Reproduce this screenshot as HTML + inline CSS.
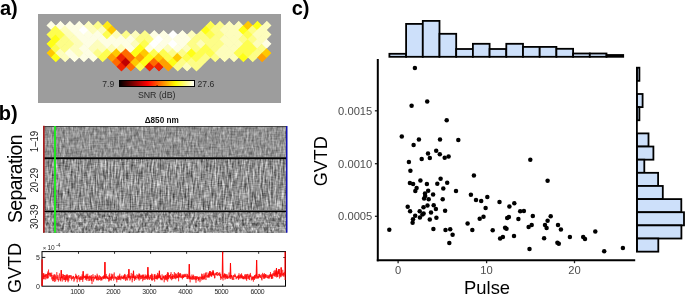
<!DOCTYPE html>
<html><head><meta charset="utf-8"><style>
html,body{margin:0;padding:0;background:#fff;width:685px;height:295px;overflow:hidden}
svg{display:block;will-change:transform}
</style></head><body>
<svg width="685" height="295" viewBox="0 0 685 295">
<rect width="685" height="295" fill="#fff"/>
<text x="0" y="14.6" font-size="20" font-weight="bold" font-family="Liberation Sans, sans-serif" fill="#000">a)</text>
<rect x="38" y="14" width="243" height="89" fill="#9d9d9d"/>
<defs><clipPath id="hc"><path d="M51.10 20.79L55.79 25.40L60.48 20.79L65.17 25.40L69.86 20.79L74.55 25.40L79.24 20.79L83.93 25.40L88.62 20.79L93.31 25.40L98.00 20.79L102.69 25.40L107.38 20.79L112.07 25.40L116.76 30.01L121.45 34.62L126.14 30.01L130.83 34.62L135.52 30.01L140.21 34.62L144.90 30.01L149.59 34.62L154.28 30.01L158.97 34.62L163.66 30.01L168.35 34.62L173.04 30.01L177.73 34.62L182.42 30.01L187.11 34.62L191.80 30.01L196.49 34.62L201.18 30.01L205.87 25.40L210.56 20.79L215.25 25.40L219.94 20.79L224.63 25.40L229.32 20.79L234.01 25.40L238.70 20.79L243.39 25.40L248.08 20.79L252.77 25.40L257.46 20.79L262.15 25.40L266.84 20.79L271.53 25.40L266.84 30.01L271.53 34.62L266.84 39.23L271.53 43.84L266.84 48.45L271.53 53.06L266.84 57.67L262.15 62.28L257.46 57.67L252.77 62.28L248.08 57.67L243.39 62.28L238.70 57.67L234.01 62.28L229.32 57.67L224.63 62.28L219.94 57.67L215.25 62.28L210.56 57.67L205.87 62.28L201.18 66.89L196.49 71.50L191.80 66.89L187.11 71.50L182.42 66.89L177.73 71.50L173.04 66.89L168.35 71.50L163.66 66.89L158.97 71.50L154.28 66.89L149.59 71.50L144.90 66.89L140.21 71.50L135.52 66.89L130.83 71.50L126.14 66.89L121.45 71.50L116.76 66.89L112.07 62.28L107.38 57.67L102.69 62.28L98.00 57.67L93.31 62.28L88.62 57.67L83.93 62.28L79.24 57.67L74.55 62.28L69.86 57.67L65.17 62.28L60.48 57.67L55.79 62.28L51.10 57.67L46.41 53.06L51.10 48.45L46.41 43.84L51.10 39.23L46.41 34.62L51.10 30.01L46.41 25.40Z"/></clipPath><filter id="hb" x="-5%" y="-5%" width="110%" height="110%"><feGaussianBlur stdDeviation="0.3"/></filter></defs>
<g filter="url(#hb)"><g clip-path="url(#hc)"><path d="M51.10 20.34L56.24 25.40L51.10 30.46L45.96 25.40Z" fill="#fefee4"/><path d="M51.10 29.56L56.24 34.62L51.10 39.68L45.96 34.62Z" fill="#fefe50"/><path d="M51.10 38.78L56.24 43.84L51.10 48.90L45.96 43.84Z" fill="#ffff14"/><path d="M51.10 48.00L56.24 53.06L51.10 58.12L45.96 53.06Z" fill="#ffc800"/><path d="M55.79 24.95L60.93 30.01L55.79 35.07L50.65 30.01Z" fill="#fefe50"/><path d="M55.79 34.17L60.93 39.23L55.79 44.29L50.65 39.23Z" fill="#ffff14"/><path d="M55.79 43.39L60.93 48.45L55.79 53.51L50.65 48.45Z" fill="#fefe50"/><path d="M55.79 52.61L60.93 57.67L55.79 62.73L50.65 57.67Z" fill="#ffff14"/><path d="M60.48 20.34L65.62 25.40L60.48 30.46L55.34 25.40Z" fill="#fefee4"/><path d="M60.48 29.56L65.62 34.62L60.48 39.68L55.34 34.62Z" fill="#fefe50"/><path d="M60.48 38.78L65.62 43.84L60.48 48.90L55.34 43.84Z" fill="#fdfd88"/><path d="M60.48 48.00L65.62 53.06L60.48 58.12L55.34 53.06Z" fill="#fdfdbc"/><path d="M65.17 24.95L70.31 30.01L65.17 35.07L60.03 30.01Z" fill="#fdfdbc"/><path d="M65.17 34.17L70.31 39.23L65.17 44.29L60.03 39.23Z" fill="#fdfd88"/><path d="M65.17 43.39L70.31 48.45L65.17 53.51L60.03 48.45Z" fill="#fdfd88"/><path d="M65.17 52.61L70.31 57.67L65.17 62.73L60.03 57.67Z" fill="#fdfdbc"/><path d="M69.86 20.34L75.00 25.40L69.86 30.46L64.72 25.40Z" fill="#fefee4"/><path d="M69.86 29.56L75.00 34.62L69.86 39.68L64.72 34.62Z" fill="#fdfdbc"/><path d="M69.86 38.78L75.00 43.84L69.86 48.90L64.72 43.84Z" fill="#fdfd88"/><path d="M69.86 48.00L75.00 53.06L69.86 58.12L64.72 53.06Z" fill="#fefee4"/><path d="M74.55 24.95L79.69 30.01L74.55 35.07L69.41 30.01Z" fill="#fefee4"/><path d="M74.55 34.17L79.69 39.23L74.55 44.29L69.41 39.23Z" fill="#fdfdbc"/><path d="M74.55 43.39L79.69 48.45L74.55 53.51L69.41 48.45Z" fill="#fdfdbc"/><path d="M74.55 52.61L79.69 57.67L74.55 62.73L69.41 57.67Z" fill="#fefee4"/><path d="M79.24 20.34L84.38 25.40L79.24 30.46L74.10 25.40Z" fill="#fefee4"/><path d="M79.24 29.56L84.38 34.62L79.24 39.68L74.10 34.62Z" fill="#fefee4"/><path d="M79.24 38.78L84.38 43.84L79.24 48.90L74.10 43.84Z" fill="#fdfdbc"/><path d="M79.24 48.00L84.38 53.06L79.24 58.12L74.10 53.06Z" fill="#fdfdbc"/><path d="M83.93 24.95L89.07 30.01L83.93 35.07L78.79 30.01Z" fill="#ffffff"/><path d="M83.93 34.17L89.07 39.23L83.93 44.29L78.79 39.23Z" fill="#fefee4"/><path d="M83.93 43.39L89.07 48.45L83.93 53.51L78.79 48.45Z" fill="#fefee4"/><path d="M83.93 52.61L89.07 57.67L83.93 62.73L78.79 57.67Z" fill="#fefee4"/><path d="M88.62 20.34L93.76 25.40L88.62 30.46L83.48 25.40Z" fill="#fdfdbc"/><path d="M88.62 29.56L93.76 34.62L88.62 39.68L83.48 34.62Z" fill="#fefee4"/><path d="M88.62 38.78L93.76 43.84L88.62 48.90L83.48 43.84Z" fill="#fefee4"/><path d="M88.62 48.00L93.76 53.06L88.62 58.12L83.48 53.06Z" fill="#fefee4"/><path d="M93.31 24.95L98.45 30.01L93.31 35.07L88.17 30.01Z" fill="#fdfdbc"/><path d="M93.31 34.17L98.45 39.23L93.31 44.29L88.17 39.23Z" fill="#fefee4"/><path d="M93.31 43.39L98.45 48.45L93.31 53.51L88.17 48.45Z" fill="#fdfdbc"/><path d="M93.31 52.61L98.45 57.67L93.31 62.73L88.17 57.67Z" fill="#fefee4"/><path d="M98.00 20.34L103.14 25.40L98.00 30.46L92.86 25.40Z" fill="#fdfd88"/><path d="M98.00 29.56L103.14 34.62L98.00 39.68L92.86 34.62Z" fill="#fefee4"/><path d="M98.00 38.78L103.14 43.84L98.00 48.90L92.86 43.84Z" fill="#fdfdbc"/><path d="M98.00 48.00L103.14 53.06L98.00 58.12L92.86 53.06Z" fill="#fdfd88"/><path d="M102.69 24.95L107.83 30.01L102.69 35.07L97.55 30.01Z" fill="#fdfdbc"/><path d="M102.69 34.17L107.83 39.23L102.69 44.29L97.55 39.23Z" fill="#fefee4"/><path d="M102.69 43.39L107.83 48.45L102.69 53.51L97.55 48.45Z" fill="#fdfdbc"/><path d="M102.69 52.61L107.83 57.67L102.69 62.73L97.55 57.67Z" fill="#fefe50"/><path d="M107.38 20.34L112.52 25.40L107.38 30.46L102.24 25.40Z" fill="#ffea18"/><path d="M107.38 29.56L112.52 34.62L107.38 39.68L102.24 34.62Z" fill="#fefe50"/><path d="M107.38 38.78L112.52 43.84L107.38 48.90L102.24 43.84Z" fill="#fefee4"/><path d="M107.38 48.00L112.52 53.06L107.38 58.12L102.24 53.06Z" fill="#fefe50"/><path d="M112.07 24.95L117.21 30.01L112.07 35.07L106.93 30.01Z" fill="#ffc800"/><path d="M112.07 34.17L117.21 39.23L112.07 44.29L106.93 39.23Z" fill="#fefee4"/><path d="M112.07 43.39L117.21 48.45L112.07 53.51L106.93 48.45Z" fill="#fdfdbc"/><path d="M112.07 52.61L117.21 57.67L112.07 62.73L106.93 57.67Z" fill="#ffa000"/><path d="M116.76 29.56L121.90 34.62L116.76 39.68L111.62 34.62Z" fill="#fdfdbc"/><path d="M116.76 38.78L121.90 43.84L116.76 48.90L111.62 43.84Z" fill="#fefee4"/><path d="M116.76 48.00L121.90 53.06L116.76 58.12L111.62 53.06Z" fill="#ffc800"/><path d="M116.76 57.22L121.90 62.28L116.76 67.34L111.62 62.28Z" fill="#ff6a00"/><path d="M121.45 34.17L126.59 39.23L121.45 44.29L116.31 39.23Z" fill="#fefee4"/><path d="M121.45 43.39L126.59 48.45L121.45 53.51L116.31 48.45Z" fill="#fdfdbc"/><path d="M121.45 52.61L126.59 57.67L121.45 62.73L116.31 57.67Z" fill="#f02000"/><path d="M121.45 61.83L126.59 66.89L121.45 71.95L116.31 66.89Z" fill="#f02000"/><path d="M126.14 29.56L131.28 34.62L126.14 39.68L121.00 34.62Z" fill="#fdfd88"/><path d="M126.14 38.78L131.28 43.84L126.14 48.90L121.00 43.84Z" fill="#fefee4"/><path d="M126.14 48.00L131.28 53.06L126.14 58.12L121.00 53.06Z" fill="#ff6a00"/><path d="M126.14 57.22L131.28 62.28L126.14 67.34L121.00 62.28Z" fill="#c00000"/><path d="M130.83 34.17L135.97 39.23L130.83 44.29L125.69 39.23Z" fill="#fefee4"/><path d="M130.83 43.39L135.97 48.45L130.83 53.51L125.69 48.45Z" fill="#fefee4"/><path d="M130.83 52.61L135.97 57.67L130.83 62.73L125.69 57.67Z" fill="#ff6a00"/><path d="M130.83 61.83L135.97 66.89L130.83 71.95L125.69 66.89Z" fill="#ff6a00"/><path d="M135.52 29.56L140.66 34.62L135.52 39.68L130.38 34.62Z" fill="#fdfdbc"/><path d="M135.52 38.78L140.66 43.84L135.52 48.90L130.38 43.84Z" fill="#fdfdbc"/><path d="M135.52 48.00L140.66 53.06L135.52 58.12L130.38 53.06Z" fill="#ffff14"/><path d="M135.52 57.22L140.66 62.28L135.52 67.34L130.38 62.28Z" fill="#ffc800"/><path d="M140.21 34.17L145.35 39.23L140.21 44.29L135.07 39.23Z" fill="#fdfd88"/><path d="M140.21 43.39L145.35 48.45L140.21 53.51L135.07 48.45Z" fill="#ffff14"/><path d="M140.21 52.61L145.35 57.67L140.21 62.73L135.07 57.67Z" fill="#ffa000"/><path d="M140.21 61.83L145.35 66.89L140.21 71.95L135.07 66.89Z" fill="#fefe50"/><path d="M144.90 29.56L150.04 34.62L144.90 39.68L139.76 34.62Z" fill="#fdfd88"/><path d="M144.90 38.78L150.04 43.84L144.90 48.90L139.76 43.84Z" fill="#fefe50"/><path d="M144.90 48.00L150.04 53.06L144.90 58.12L139.76 53.06Z" fill="#ffc800"/><path d="M144.90 57.22L150.04 62.28L144.90 67.34L139.76 62.28Z" fill="#ffff14"/><path d="M149.59 34.17L154.73 39.23L149.59 44.29L144.45 39.23Z" fill="#fdfd88"/><path d="M149.59 43.39L154.73 48.45L149.59 53.51L144.45 48.45Z" fill="#fefee4"/><path d="M149.59 52.61L154.73 57.67L149.59 62.73L144.45 57.67Z" fill="#ffff14"/><path d="M149.59 61.83L154.73 66.89L149.59 71.95L144.45 66.89Z" fill="#f02000"/><path d="M154.28 29.56L159.42 34.62L154.28 39.68L149.14 34.62Z" fill="#fefee4"/><path d="M154.28 38.78L159.42 43.84L154.28 48.90L149.14 43.84Z" fill="#ffffff"/><path d="M154.28 48.00L159.42 53.06L154.28 58.12L149.14 53.06Z" fill="#fefe50"/><path d="M154.28 57.22L159.42 62.28L154.28 67.34L149.14 62.28Z" fill="#ff6a00"/><path d="M158.97 34.17L164.11 39.23L158.97 44.29L153.83 39.23Z" fill="#ffffff"/><path d="M158.97 43.39L164.11 48.45L158.97 53.51L153.83 48.45Z" fill="#fefee4"/><path d="M158.97 52.61L164.11 57.67L158.97 62.73L153.83 57.67Z" fill="#ffc800"/><path d="M158.97 61.83L164.11 66.89L158.97 71.95L153.83 66.89Z" fill="#f02000"/><path d="M163.66 29.56L168.80 34.62L163.66 39.68L158.52 34.62Z" fill="#fefee4"/><path d="M163.66 38.78L168.80 43.84L163.66 48.90L158.52 43.84Z" fill="#fefee4"/><path d="M163.66 48.00L168.80 53.06L163.66 58.12L158.52 53.06Z" fill="#fefe50"/><path d="M163.66 57.22L168.80 62.28L163.66 67.34L158.52 62.28Z" fill="#ffa000"/><path d="M168.35 34.17L173.49 39.23L168.35 44.29L163.21 39.23Z" fill="#fefee4"/><path d="M168.35 43.39L173.49 48.45L168.35 53.51L163.21 48.45Z" fill="#fdfdbc"/><path d="M168.35 52.61L173.49 57.67L168.35 62.73L163.21 57.67Z" fill="#fefe50"/><path d="M168.35 61.83L173.49 66.89L168.35 71.95L163.21 66.89Z" fill="#ffa000"/><path d="M173.04 29.56L178.18 34.62L173.04 39.68L167.90 34.62Z" fill="#ffffff"/><path d="M173.04 38.78L178.18 43.84L173.04 48.90L167.90 43.84Z" fill="#ffffff"/><path d="M173.04 48.00L178.18 53.06L173.04 58.12L167.90 53.06Z" fill="#fdfd88"/><path d="M173.04 57.22L178.18 62.28L173.04 67.34L167.90 62.28Z" fill="#ffff14"/><path d="M177.73 34.17L182.87 39.23L177.73 44.29L172.59 39.23Z" fill="#fefee4"/><path d="M177.73 43.39L182.87 48.45L177.73 53.51L172.59 48.45Z" fill="#fefee4"/><path d="M177.73 52.61L182.87 57.67L177.73 62.73L172.59 57.67Z" fill="#ffc800"/><path d="M177.73 61.83L182.87 66.89L177.73 71.95L172.59 66.89Z" fill="#fdfd88"/><path d="M182.42 29.56L187.56 34.62L182.42 39.68L177.28 34.62Z" fill="#fefee4"/><path d="M182.42 38.78L187.56 43.84L182.42 48.90L177.28 43.84Z" fill="#fefee4"/><path d="M182.42 48.00L187.56 53.06L182.42 58.12L177.28 53.06Z" fill="#fdfd88"/><path d="M182.42 57.22L187.56 62.28L182.42 67.34L177.28 62.28Z" fill="#fdfd88"/><path d="M187.11 34.17L192.25 39.23L187.11 44.29L181.97 39.23Z" fill="#fefee4"/><path d="M187.11 43.39L192.25 48.45L187.11 53.51L181.97 48.45Z" fill="#fdfdbc"/><path d="M187.11 52.61L192.25 57.67L187.11 62.73L181.97 57.67Z" fill="#fefe50"/><path d="M187.11 61.83L192.25 66.89L187.11 71.95L181.97 66.89Z" fill="#fdfdbc"/><path d="M191.80 29.56L196.94 34.62L191.80 39.68L186.66 34.62Z" fill="#fdfdbc"/><path d="M191.80 38.78L196.94 43.84L191.80 48.90L186.66 43.84Z" fill="#fdfd88"/><path d="M191.80 48.00L196.94 53.06L191.80 58.12L186.66 53.06Z" fill="#ffff14"/><path d="M191.80 57.22L196.94 62.28L191.80 67.34L186.66 62.28Z" fill="#fdfd88"/><path d="M196.49 34.17L201.63 39.23L196.49 44.29L191.35 39.23Z" fill="#fdfd88"/><path d="M196.49 43.39L201.63 48.45L196.49 53.51L191.35 48.45Z" fill="#fdfd88"/><path d="M196.49 52.61L201.63 57.67L196.49 62.73L191.35 57.67Z" fill="#fefe50"/><path d="M196.49 61.83L201.63 66.89L196.49 71.95L191.35 66.89Z" fill="#fdfd88"/><path d="M201.18 29.56L206.32 34.62L201.18 39.68L196.04 34.62Z" fill="#fdfd88"/><path d="M201.18 38.78L206.32 43.84L201.18 48.90L196.04 43.84Z" fill="#fdfdbc"/><path d="M201.18 48.00L206.32 53.06L201.18 58.12L196.04 53.06Z" fill="#fefe50"/><path d="M201.18 57.22L206.32 62.28L201.18 67.34L196.04 62.28Z" fill="#fdfd88"/><path d="M205.87 24.95L211.01 30.01L205.87 35.07L200.73 30.01Z" fill="#ffff14"/><path d="M205.87 34.17L211.01 39.23L205.87 44.29L200.73 39.23Z" fill="#fdfd88"/><path d="M205.87 43.39L211.01 48.45L205.87 53.51L200.73 48.45Z" fill="#fefe50"/><path d="M205.87 52.61L211.01 57.67L205.87 62.73L200.73 57.67Z" fill="#fdfd88"/><path d="M210.56 20.34L215.70 25.40L210.56 30.46L205.42 25.40Z" fill="#fefe50"/><path d="M210.56 29.56L215.70 34.62L210.56 39.68L205.42 34.62Z" fill="#fefe50"/><path d="M210.56 38.78L215.70 43.84L210.56 48.90L205.42 43.84Z" fill="#fdfd88"/><path d="M210.56 48.00L215.70 53.06L210.56 58.12L205.42 53.06Z" fill="#fefe50"/><path d="M215.25 24.95L220.39 30.01L215.25 35.07L210.11 30.01Z" fill="#fdfd88"/><path d="M215.25 34.17L220.39 39.23L215.25 44.29L210.11 39.23Z" fill="#fdfd88"/><path d="M215.25 43.39L220.39 48.45L215.25 53.51L210.11 48.45Z" fill="#fdfd88"/><path d="M215.25 52.61L220.39 57.67L215.25 62.73L210.11 57.67Z" fill="#fdfd88"/><path d="M219.94 20.34L225.08 25.40L219.94 30.46L214.80 25.40Z" fill="#fdfd88"/><path d="M219.94 29.56L225.08 34.62L219.94 39.68L214.80 34.62Z" fill="#fdfd88"/><path d="M219.94 38.78L225.08 43.84L219.94 48.90L214.80 43.84Z" fill="#fdfd88"/><path d="M219.94 48.00L225.08 53.06L219.94 58.12L214.80 53.06Z" fill="#fdfdbc"/><path d="M224.63 24.95L229.77 30.01L224.63 35.07L219.49 30.01Z" fill="#fdfdbc"/><path d="M224.63 34.17L229.77 39.23L224.63 44.29L219.49 39.23Z" fill="#fdfdbc"/><path d="M224.63 43.39L229.77 48.45L224.63 53.51L219.49 48.45Z" fill="#fdfdbc"/><path d="M224.63 52.61L229.77 57.67L224.63 62.73L219.49 57.67Z" fill="#fdfdbc"/><path d="M229.32 20.34L234.46 25.40L229.32 30.46L224.18 25.40Z" fill="#fdfdbc"/><path d="M229.32 29.56L234.46 34.62L229.32 39.68L224.18 34.62Z" fill="#fdfdbc"/><path d="M229.32 38.78L234.46 43.84L229.32 48.90L224.18 43.84Z" fill="#fdfdbc"/><path d="M229.32 48.00L234.46 53.06L229.32 58.12L224.18 53.06Z" fill="#fdfdbc"/><path d="M234.01 24.95L239.15 30.01L234.01 35.07L228.87 30.01Z" fill="#fdfdbc"/><path d="M234.01 34.17L239.15 39.23L234.01 44.29L228.87 39.23Z" fill="#fdfdbc"/><path d="M234.01 43.39L239.15 48.45L234.01 53.51L228.87 48.45Z" fill="#fdfdbc"/><path d="M234.01 52.61L239.15 57.67L234.01 62.73L228.87 57.67Z" fill="#fdfdbc"/><path d="M238.70 20.34L243.84 25.40L238.70 30.46L233.56 25.40Z" fill="#fdfdbc"/><path d="M238.70 29.56L243.84 34.62L238.70 39.68L233.56 34.62Z" fill="#fdfdbc"/><path d="M238.70 38.78L243.84 43.84L238.70 48.90L233.56 43.84Z" fill="#fdfdbc"/><path d="M238.70 48.00L243.84 53.06L238.70 58.12L233.56 53.06Z" fill="#fefe50"/><path d="M243.39 24.95L248.53 30.01L243.39 35.07L238.25 30.01Z" fill="#ffff14"/><path d="M243.39 34.17L248.53 39.23L243.39 44.29L238.25 39.23Z" fill="#fdfd88"/><path d="M243.39 43.39L248.53 48.45L243.39 53.51L238.25 48.45Z" fill="#fefe50"/><path d="M243.39 52.61L248.53 57.67L243.39 62.73L238.25 57.67Z" fill="#ffff14"/><path d="M248.08 20.34L253.22 25.40L248.08 30.46L242.94 25.40Z" fill="#ffc800"/><path d="M248.08 29.56L253.22 34.62L248.08 39.68L242.94 34.62Z" fill="#fefe50"/><path d="M248.08 38.78L253.22 43.84L248.08 48.90L242.94 43.84Z" fill="#fefe50"/><path d="M248.08 48.00L253.22 53.06L248.08 58.12L242.94 53.06Z" fill="#fefe50"/><path d="M252.77 24.95L257.91 30.01L252.77 35.07L247.63 30.01Z" fill="#fdfd88"/><path d="M252.77 34.17L257.91 39.23L252.77 44.29L247.63 39.23Z" fill="#fdfd88"/><path d="M252.77 43.39L257.91 48.45L252.77 53.51L247.63 48.45Z" fill="#fefe50"/><path d="M252.77 52.61L257.91 57.67L252.77 62.73L247.63 57.67Z" fill="#fdfd88"/><path d="M257.46 20.34L262.60 25.40L257.46 30.46L252.32 25.40Z" fill="#ffff14"/><path d="M257.46 29.56L262.60 34.62L257.46 39.68L252.32 34.62Z" fill="#fdfdbc"/><path d="M257.46 38.78L262.60 43.84L257.46 48.90L252.32 43.84Z" fill="#fdfdbc"/><path d="M257.46 48.00L262.60 53.06L257.46 58.12L252.32 53.06Z" fill="#fdfd88"/><path d="M262.15 24.95L267.29 30.01L262.15 35.07L257.01 30.01Z" fill="#fdfdbc"/><path d="M262.15 34.17L267.29 39.23L262.15 44.29L257.01 39.23Z" fill="#fdfdbc"/><path d="M262.15 43.39L267.29 48.45L262.15 53.51L257.01 48.45Z" fill="#fdfd88"/><path d="M262.15 52.61L267.29 57.67L262.15 62.73L257.01 57.67Z" fill="#ffa000"/><path d="M266.84 20.34L271.98 25.40L266.84 30.46L261.70 25.40Z" fill="#fdfdbc"/><path d="M266.84 29.56L271.98 34.62L266.84 39.68L261.70 34.62Z" fill="#fdfdbc"/><path d="M266.84 38.78L271.98 43.84L266.84 48.90L261.70 43.84Z" fill="#fefee4"/><path d="M266.84 48.00L271.98 53.06L266.84 58.12L261.70 53.06Z" fill="#ffc800"/></g></g>
<defs><linearGradient id="hot" x1="0" x2="1" y1="0" y2="0"><stop offset="0" stop-color="#000"/><stop offset="0.375" stop-color="#f00"/><stop offset="0.75" stop-color="#ff0"/><stop offset="1" stop-color="#fff"/></linearGradient></defs>
<rect x="119.5" y="80.5" width="75" height="6" fill="url(#hot)" stroke="#000" stroke-width="1"/>
<line x1="157.1" y1="85" x2="157.1" y2="86.5" stroke="#000" stroke-width="0.8"/>
<text x="114.2" y="87" font-size="8.6" text-anchor="end" font-family="Liberation Sans, sans-serif" fill="#2a2a2a">7.9</text>
<text x="197.6" y="87" font-size="8.6" font-family="Liberation Sans, sans-serif" fill="#2a2a2a">27.6</text>
<text x="156.7" y="98.4" font-size="8.8" text-anchor="middle" font-family="Liberation Sans, sans-serif" fill="#2a2a2a">SNR (dB)</text>
<text x="-1.2" y="119.8" font-size="20" font-weight="bold" font-family="Liberation Sans, sans-serif" fill="#000">b)</text>
<text x="161.7" y="122.6" font-size="8.2" font-weight="bold" text-anchor="middle" font-family="Liberation Sans, sans-serif" fill="#111">&#916;850 nm</text>
<defs>
<filter id="nz1" x="0" y="0" width="1" height="1" color-interpolation-filters="sRGB">
<feTurbulence type="fractalNoise" baseFrequency="0.55 0.16" numOctaves="2" seed="4" result="t1"/>
<feColorMatrix in="t1" type="matrix" values="1 0 0 0 0  1 0 0 0 0  1 0 0 0 0  0 0 0 0 1" result="a1"/>
<feTurbulence type="fractalNoise" baseFrequency="0.15 0.7" numOctaves="1" seed="31" result="t2"/>
<feColorMatrix in="t2" type="matrix" values="1 0 0 0 0  1 0 0 0 0  1 0 0 0 0  0 0 0 0 1" result="a2"/>
<feComposite in="a1" in2="a2" operator="arithmetic" k1="0" k2="1.0" k3="0.45" k4="-0.225" result="c"/>
<feColorMatrix in="c" type="matrix" values="0.52 0 0 0 0.31  0.52 0 0 0 0.31  0.52 0 0 0 0.31  0 0 0 0 1"/>
</filter>
<filter id="nz2" x="0" y="0" width="1" height="1" color-interpolation-filters="sRGB">
<feTurbulence type="fractalNoise" baseFrequency="0.6 0.1" numOctaves="2" seed="9" result="t1"/>
<feColorMatrix in="t1" type="matrix" values="1 0 0 0 0  1 0 0 0 0  1 0 0 0 0  0 0 0 0 1" result="a1"/>
<feTurbulence type="fractalNoise" baseFrequency="0.2 0.9" numOctaves="1" seed="21" result="t2"/>
<feColorMatrix in="t2" type="matrix" values="1 0 0 0 0  1 0 0 0 0  1 0 0 0 0  0 0 0 0 1" result="a2"/>
<feComposite in="a1" in2="a2" operator="arithmetic" k1="0" k2="1.0" k3="0.38" k4="-0.19" result="c"/>
<feColorMatrix in="c" type="matrix" values="0.85 0 0 0 0.145  0.85 0 0 0 0.145  0.85 0 0 0 0.145  0 0 0 0 1"/>
</filter>
<filter id="nz3" x="0" y="0" width="1" height="1" color-interpolation-filters="sRGB">
<feTurbulence type="fractalNoise" baseFrequency="0.45 0.22" numOctaves="2" seed="13" result="t1"/>
<feColorMatrix in="t1" type="matrix" values="1 0 0 0 0  1 0 0 0 0  1 0 0 0 0  0 0 0 0 1" result="a1"/>
<feTurbulence type="fractalNoise" baseFrequency="0.2 0.8" numOctaves="1" seed="41" result="t2"/>
<feColorMatrix in="t2" type="matrix" values="1 0 0 0 0  1 0 0 0 0  1 0 0 0 0  0 0 0 0 1" result="a2"/>
<feComposite in="a1" in2="a2" operator="arithmetic" k1="0" k2="1.0" k3="0.35" k4="-0.175" result="c"/>
<feColorMatrix in="c" type="matrix" values="0.85 0 0 0 0.145  0.85 0 0 0 0.145  0.85 0 0 0 0.145  0 0 0 0 1"/>
</filter>
</defs>
<rect x="43" y="126" width="243.5" height="31" fill="#999" filter="url(#nz1)"/>
<rect x="43" y="159" width="243.5" height="51" fill="#999" filter="url(#nz2)"/>
<rect x="43" y="212" width="243.5" height="20.7" fill="#999" filter="url(#nz3)"/>
<rect x="43" y="157.2" width="243.5" height="2" fill="#000"/>
<rect x="43" y="210.4" width="243.5" height="1.8" fill="#000"/>
<rect x="43" y="126" width="243.5" height="0.8" fill="#333"/>
<rect x="43" y="125.8" width="1.7" height="106.9" fill="#a81c1c"/>
<rect x="286" y="126" width="1.5" height="106.7" fill="#1414b4"/>
<rect x="54.1" y="126" width="1.8" height="106.7" fill="#18f018"/>
<text transform="translate(37.70 141.50) rotate(-90) scale(1 1.130)" font-size="9.6" text-anchor="middle" font-family="Liberation Sans, sans-serif" fill="#222">1&#8211;19</text>
<text transform="translate(37.70 180.20) rotate(-90) scale(1 1.130)" font-size="9.6" text-anchor="middle" font-family="Liberation Sans, sans-serif" fill="#222">20-29</text>
<text transform="translate(37.70 216.80) rotate(-90) scale(1 1.130)" font-size="9.6" text-anchor="middle" font-family="Liberation Sans, sans-serif" fill="#222">30-39</text>
<text transform="translate(21.50 179.00) rotate(-90) scale(1 1.000)" font-size="19.5" text-anchor="middle" font-family="Liberation Sans, sans-serif" fill="#000" letter-spacing="-0.62">Separation</text>
<rect x="42.0" y="251.6" width="243.5" height="34.6" fill="none" stroke="#000" stroke-width="1"/>
<line x1="78.53" y1="286.2" x2="78.53" y2="284.0" stroke="#000" stroke-width="0.8"/>
<line x1="78.53" y1="251.6" x2="78.53" y2="253.8" stroke="#000" stroke-width="0.8"/>
<text x="77.23" y="293.7" font-size="6.9" letter-spacing="-0.35" text-anchor="middle" font-family="Liberation Sans, sans-serif" fill="#2a2a2a">1000</text>
<line x1="114.56" y1="286.2" x2="114.56" y2="284.0" stroke="#000" stroke-width="0.8"/>
<line x1="114.56" y1="251.6" x2="114.56" y2="253.8" stroke="#000" stroke-width="0.8"/>
<text x="113.26" y="293.7" font-size="6.9" letter-spacing="-0.35" text-anchor="middle" font-family="Liberation Sans, sans-serif" fill="#2a2a2a">2000</text>
<line x1="150.59" y1="286.2" x2="150.59" y2="284.0" stroke="#000" stroke-width="0.8"/>
<line x1="150.59" y1="251.6" x2="150.59" y2="253.8" stroke="#000" stroke-width="0.8"/>
<text x="149.29" y="293.7" font-size="6.9" letter-spacing="-0.35" text-anchor="middle" font-family="Liberation Sans, sans-serif" fill="#2a2a2a">3000</text>
<line x1="186.62" y1="286.2" x2="186.62" y2="284.0" stroke="#000" stroke-width="0.8"/>
<line x1="186.62" y1="251.6" x2="186.62" y2="253.8" stroke="#000" stroke-width="0.8"/>
<text x="185.32" y="293.7" font-size="6.9" letter-spacing="-0.35" text-anchor="middle" font-family="Liberation Sans, sans-serif" fill="#2a2a2a">4000</text>
<line x1="222.65" y1="286.2" x2="222.65" y2="284.0" stroke="#000" stroke-width="0.8"/>
<line x1="222.65" y1="251.6" x2="222.65" y2="253.8" stroke="#000" stroke-width="0.8"/>
<text x="221.35" y="293.7" font-size="6.9" letter-spacing="-0.35" text-anchor="middle" font-family="Liberation Sans, sans-serif" fill="#2a2a2a">5000</text>
<line x1="258.68" y1="286.2" x2="258.68" y2="284.0" stroke="#000" stroke-width="0.8"/>
<line x1="258.68" y1="251.6" x2="258.68" y2="253.8" stroke="#000" stroke-width="0.8"/>
<text x="257.38" y="293.7" font-size="6.9" letter-spacing="-0.35" text-anchor="middle" font-family="Liberation Sans, sans-serif" fill="#2a2a2a">6000</text>
<line x1="42.0" y1="257.4" x2="45.3" y2="257.4" stroke="#000" stroke-width="0.9"/>
<line x1="285.5" y1="257.5" x2="283.3" y2="257.5" stroke="#000" stroke-width="0.8"/>
<text x="39.8" y="260" font-size="7" text-anchor="end" font-family="Liberation Sans, sans-serif" fill="#222">5</text>
<text x="39.8" y="288.6" font-size="7" text-anchor="end" font-family="Liberation Sans, sans-serif" fill="#222">0</text>
<text x="42.8" y="249.7" font-size="6" font-family="Liberation Sans, sans-serif" fill="#2a2a2a">&#215;</text>
<text x="47.6" y="249.9" font-size="6.6" letter-spacing="-0.3" font-family="Liberation Sans, sans-serif" fill="#2a2a2a">10</text>
<text x="55.9" y="246.6" font-size="5.2" font-family="Liberation Sans, sans-serif" fill="#2a2a2a">-4</text>
<text transform="translate(21.30 268.00) rotate(-90) scale(1 1.000)" font-size="18" text-anchor="middle" font-family="Liberation Sans, sans-serif" fill="#000">GVTD</text>
<polyline fill="none" stroke="#ff0000" stroke-width="0.55" stroke-linejoin="round" points="42.10,259.40 42.10,285.50 43.00,275.88 43.14,275.79 43.28,278.92 43.43,273.44 43.57,277.17 43.71,273.23 43.85,279.13 44.00,277.37 44.14,279.30 44.28,275.81 44.42,277.29 44.57,275.93 44.71,275.00 44.85,276.48 44.99,273.84 45.14,275.35 45.28,277.13 45.42,275.87 45.56,274.91 45.71,279.48 45.85,275.53 45.99,274.25 46.13,275.48 46.28,274.14 46.42,274.27 46.56,274.22 46.70,278.38 46.85,274.66 46.99,274.83 47.13,275.66 47.27,278.03 47.42,273.94 47.56,273.16 47.70,278.68 47.84,271.55 47.99,273.46 48.13,275.27 48.27,278.12 48.41,272.25 48.56,269.53 48.70,275.04 48.84,272.85 48.98,273.04 49.12,274.51 49.27,274.03 49.41,274.10 49.55,272.74 49.69,275.94 49.84,276.51 49.98,274.03 50.12,273.34 50.26,275.65 50.41,275.37 50.55,272.81 50.69,274.04 50.83,276.93 50.98,275.05 51.12,274.81 51.26,275.96 51.40,275.69 51.55,275.93 51.69,272.64 51.83,279.44 51.97,276.83 52.12,275.00 52.26,278.43 52.40,277.32 52.54,276.88 52.69,278.83 52.83,281.11 52.97,278.13 53.11,280.08 53.26,281.20 53.40,275.57 53.54,276.56 53.68,278.99 53.83,274.61 53.97,277.30 54.11,280.13 54.25,279.68 54.39,278.84 54.54,274.39 54.68,282.03 54.82,278.79 54.96,279.18 55.11,278.69 55.25,274.71 55.39,275.21 55.53,275.61 55.68,281.25 55.82,276.30 55.96,277.36 56.10,277.34 56.25,278.82 56.39,278.69 56.53,278.28 56.67,275.52 56.82,272.14 56.96,278.09 57.10,278.27 57.24,280.01 57.39,277.61 57.53,276.69 57.67,278.53 57.81,274.99 57.96,275.91 58.10,275.98 58.24,278.31 58.38,281.55 58.53,279.16 58.67,279.84 58.81,278.22 58.95,278.29 59.10,276.98 59.24,277.28 59.38,273.41 59.52,275.62 59.67,275.47 59.81,279.29 59.95,278.98 60.09,279.84 60.23,280.58 60.38,277.23 60.52,279.68 60.66,281.30 60.80,277.77 60.95,279.74 61.09,277.48 61.23,270.20 61.37,278.00 61.52,276.30 61.66,277.98 61.80,276.95 61.94,278.35 62.09,273.93 62.23,281.53 62.37,280.23 62.51,277.15 62.66,276.14 62.80,277.78 62.94,278.99 63.08,278.54 63.23,278.50 63.37,274.23 63.51,275.74 63.65,280.19 63.80,278.21 63.94,275.03 64.08,276.21 64.22,275.17 64.37,275.93 64.51,279.90 64.65,277.37 64.79,279.81 64.94,278.11 65.08,275.03 65.22,276.59 65.36,281.95 65.51,276.37 65.65,275.85 65.79,280.03 65.93,277.93 66.07,277.76 66.22,280.45 66.36,274.54 66.50,278.53 66.64,275.83 66.79,275.19 66.93,276.27 67.07,279.88 67.21,277.51 67.36,274.40 67.50,275.73 67.64,280.56 67.78,279.64 67.93,275.76 68.07,282.22 68.21,277.09 68.35,275.57 68.50,277.51 68.64,279.48 68.78,280.72 68.92,279.65 69.07,276.97 69.21,276.73 69.35,275.08 69.49,277.62 69.64,276.66 69.78,278.21 69.92,275.43 70.06,276.81 70.21,276.13 70.35,275.54 70.49,275.58 70.63,275.88 70.78,275.58 70.92,278.80 71.06,277.94 71.20,275.32 71.34,278.70 71.49,278.28 71.63,280.44 71.77,277.39 71.91,277.37 72.06,276.48 72.20,277.98 72.34,278.66 72.48,278.07 72.63,277.28 72.77,278.79 72.91,277.92 73.05,278.20 73.20,276.03 73.34,278.13 73.48,275.91 73.62,276.19 73.77,278.04 73.91,281.63 74.05,279.58 74.19,277.75 74.34,277.42 74.48,279.56 74.62,280.29 74.76,279.99 74.91,277.40 75.05,278.09 75.19,277.14 75.33,277.22 75.48,276.17 75.62,277.28 75.76,273.78 75.90,275.53 76.05,278.52 76.19,276.04 76.33,278.74 76.47,275.36 76.62,277.06 76.76,278.47 76.90,275.83 77.04,276.42 77.18,282.29 77.33,276.48 77.47,276.44 77.61,276.68 77.75,277.80 77.90,277.69 78.04,279.55 78.18,279.19 78.32,276.99 78.47,277.08 78.61,275.13 78.75,274.98 78.89,276.37 79.04,279.08 79.18,277.95 79.32,279.21 79.46,279.46 79.61,277.43 79.75,281.60 79.89,276.77 80.03,276.58 80.18,276.94 80.32,279.82 80.46,277.48 80.60,276.37 80.75,278.53 80.89,279.81 81.03,277.52 81.17,277.26 81.32,279.72 81.46,279.54 81.60,279.47 81.74,276.32 81.89,278.25 82.03,278.39 82.17,274.42 82.31,279.94 82.45,277.91 82.60,277.10 82.74,281.89 82.88,277.99 83.02,276.40 83.17,271.30 83.31,278.76 83.45,279.22 83.59,277.62 83.74,276.13 83.88,276.44 84.02,276.22 84.16,275.78 84.31,277.68 84.45,276.82 84.59,277.82 84.73,276.20 84.88,276.12 85.02,277.38 85.16,277.08 85.30,279.83 85.45,276.05 85.59,278.09 85.73,277.64 85.87,275.31 86.02,279.05 86.16,278.03 86.30,273.86 86.44,278.82 86.59,279.44 86.73,276.25 86.87,280.82 87.01,278.00 87.16,275.59 87.30,278.74 87.44,277.05 87.58,275.25 87.73,273.77 87.87,278.16 88.01,276.36 88.15,278.89 88.29,278.42 88.44,276.75 88.58,276.73 88.72,280.95 88.86,280.84 89.01,279.09 89.15,277.05 89.29,275.90 89.43,276.99 89.58,280.76 89.72,278.55 89.86,277.17 90.00,275.45 90.15,278.01 90.29,276.09 90.43,277.73 90.57,279.06 90.72,279.67 90.86,277.96 91.00,277.07 91.14,278.12 91.29,281.01 91.43,278.39 91.57,275.13 91.71,280.54 91.86,278.16 92.00,284.08 92.14,276.84 92.28,277.53 92.43,277.15 92.57,278.39 92.71,276.64 92.85,274.99 93.00,274.18 93.14,277.47 93.28,276.75 93.42,276.63 93.57,281.58 93.71,279.15 93.85,279.69 93.99,276.78 94.13,278.24 94.28,277.31 94.42,277.32 94.56,279.06 94.70,278.80 94.85,278.25 94.99,277.96 95.13,275.05 95.27,276.34 95.42,278.39 95.56,277.02 95.70,276.27 95.84,278.34 95.99,276.00 96.13,276.46 96.27,279.30 96.41,277.03 96.56,280.30 96.70,278.64 96.84,279.17 96.98,279.75 97.13,273.73 97.27,277.54 97.41,275.32 97.55,276.84 97.70,277.49 97.84,279.95 97.98,277.60 98.12,280.68 98.27,276.72 98.41,277.58 98.55,277.85 98.69,279.41 98.84,277.59 98.98,276.55 99.12,277.08 99.26,275.12 99.40,279.98 99.55,279.04 99.69,278.46 99.83,278.18 99.97,276.57 100.12,276.94 100.26,279.15 100.40,276.24 100.54,276.25 100.69,280.55 100.83,280.52 100.97,278.21 101.11,278.65 101.26,278.01 101.40,280.27 101.54,276.86 101.68,277.82 101.83,278.55 101.97,280.29 102.11,277.22 102.25,278.09 102.40,276.78 102.54,276.48 102.68,276.48 102.82,277.82 102.97,279.28 103.11,276.41 103.25,276.58 103.39,276.93 103.54,278.31 103.68,278.94 103.82,275.40 103.96,278.31 104.11,275.86 104.25,278.96 104.39,275.92 104.53,275.70 104.68,276.37 104.82,277.55 104.96,262.10 105.10,278.05 105.24,277.93 105.39,277.81 105.53,278.15 105.67,279.24 105.81,276.34 105.96,277.66 106.10,277.61 106.24,273.95 106.38,278.36 106.53,276.27 106.67,276.36 106.81,276.85 106.95,277.84 107.10,278.26 107.24,278.53 107.38,276.40 107.52,278.92 107.67,278.41 107.81,276.95 107.95,277.62 108.09,279.11 108.24,278.44 108.38,278.91 108.52,277.85 108.66,279.71 108.81,281.66 108.95,278.47 109.09,274.77 109.23,280.76 109.38,276.62 109.52,275.16 109.66,273.38 109.80,278.42 109.95,279.62 110.09,279.46 110.23,276.96 110.37,280.26 110.52,277.51 110.66,276.58 110.80,277.77 110.94,278.03 111.08,277.74 111.23,278.37 111.37,273.70 111.51,280.47 111.65,276.62 111.80,278.82 111.94,276.21 112.08,277.94 112.22,277.33 112.37,274.80 112.51,278.33 112.65,278.79 112.79,275.63 112.94,273.87 113.08,276.48 113.22,276.13 113.36,277.84 113.51,277.61 113.65,280.54 113.79,278.81 113.93,277.18 114.08,277.93 114.22,272.45 114.36,276.01 114.50,275.98 114.65,277.44 114.79,278.21 114.93,278.02 115.07,279.32 115.22,276.39 115.36,278.19 115.50,277.40 115.64,277.66 115.79,278.21 115.93,277.13 116.07,278.01 116.21,277.57 116.35,279.47 116.50,277.43 116.64,278.18 116.78,282.30 116.92,278.76 117.07,278.55 117.21,279.57 117.35,275.82 117.49,278.91 117.64,278.98 117.78,278.42 117.92,279.38 118.06,279.04 118.21,279.77 118.35,276.47 118.49,278.40 118.63,276.65 118.78,279.86 118.92,277.87 119.06,275.29 119.20,277.82 119.35,275.82 119.49,279.39 119.63,277.02 119.77,273.69 119.92,276.93 120.06,279.46 120.20,278.21 120.34,276.49 120.49,278.78 120.63,278.66 120.77,280.26 120.91,279.24 121.06,278.28 121.20,276.21 121.34,278.13 121.48,278.16 121.63,277.64 121.77,278.37 121.91,275.49 122.05,278.64 122.19,277.64 122.34,278.26 122.48,277.44 122.62,277.08 122.76,278.07 122.91,279.02 123.05,277.04 123.19,278.20 123.33,276.24 123.48,278.36 123.62,277.65 123.76,275.32 123.90,279.70 124.05,276.02 124.19,277.76 124.33,275.26 124.47,274.51 124.62,278.79 124.76,275.10 124.90,273.90 125.04,277.22 125.19,274.84 125.33,277.24 125.47,280.88 125.61,276.91 125.76,278.25 125.90,278.61 126.04,278.05 126.18,277.39 126.33,280.30 126.47,277.46 126.61,278.24 126.75,277.80 126.90,275.32 127.04,278.18 127.18,277.70 127.32,278.76 127.46,278.84 127.61,280.40 127.75,274.21 127.89,276.61 128.03,276.76 128.18,276.06 128.32,278.34 128.46,277.46 128.60,277.85 128.75,274.69 128.89,269.20 129.03,277.48 129.17,276.80 129.32,276.52 129.46,277.39 129.60,277.10 129.74,275.70 129.89,280.56 130.03,276.39 130.17,278.75 130.31,278.66 130.46,279.32 130.60,276.58 130.74,275.82 130.88,278.38 131.03,278.06 131.17,273.39 131.31,272.93 131.45,276.62 131.60,276.90 131.74,277.11 131.88,278.33 132.02,275.86 132.17,282.30 132.31,279.20 132.45,279.90 132.59,278.07 132.74,273.89 132.88,278.01 133.02,276.61 133.16,278.37 133.30,277.38 133.45,270.80 133.59,276.02 133.73,276.94 133.87,277.60 134.02,276.25 134.16,276.77 134.30,278.68 134.44,281.01 134.59,277.20 134.73,279.05 134.87,275.56 135.01,276.77 135.16,278.17 135.30,278.61 135.44,275.76 135.58,278.65 135.73,277.84 135.87,279.91 136.01,279.24 136.15,278.55 136.30,276.88 136.44,278.04 136.58,276.05 136.72,276.11 136.87,274.30 137.01,275.27 137.15,275.32 137.29,277.39 137.44,277.76 137.58,275.19 137.72,277.40 137.86,278.29 138.01,279.21 138.15,277.40 138.29,277.96 138.43,276.90 138.58,279.21 138.72,274.80 138.86,277.99 139.00,273.45 139.14,280.60 139.29,279.21 139.43,273.83 139.57,276.63 139.71,275.06 139.86,274.43 140.00,276.83 140.14,276.00 140.28,279.40 140.43,276.63 140.57,275.59 140.71,277.41 140.85,278.27 141.00,279.01 141.14,278.45 141.28,274.91 141.42,276.10 141.57,277.22 141.71,276.06 141.85,278.87 141.99,276.94 142.14,277.42 142.28,276.88 142.42,277.62 142.56,274.88 142.71,281.26 142.85,276.54 142.99,276.25 143.13,274.39 143.28,277.38 143.42,275.09 143.56,278.12 143.70,279.66 143.85,278.62 143.99,276.75 144.13,279.79 144.27,277.20 144.41,277.45 144.56,277.64 144.70,276.69 144.84,278.27 144.98,275.35 145.13,274.39 145.27,279.65 145.41,276.23 145.55,276.90 145.70,278.12 145.84,276.70 145.98,275.44 146.12,277.18 146.27,275.85 146.41,278.50 146.55,276.74 146.69,277.07 146.84,278.89 146.98,274.79 147.12,274.88 147.26,278.81 147.41,279.76 147.55,277.68 147.69,276.27 147.83,267.20 147.98,278.44 148.12,279.33 148.26,274.31 148.40,277.29 148.55,275.70 148.69,275.58 148.83,278.54 148.97,278.81 149.12,276.68 149.26,277.07 149.40,279.95 149.54,278.68 149.69,277.30 149.83,278.42 149.97,277.71 150.11,275.28 150.25,276.60 150.40,278.01 150.54,278.61 150.68,275.39 150.82,276.09 150.97,276.47 151.11,274.83 151.25,279.46 151.39,278.32 151.54,279.83 151.68,273.64 151.82,276.08 151.96,280.73 152.11,275.02 152.25,274.28 152.39,277.90 152.53,280.29 152.68,278.64 152.82,275.81 152.96,278.49 153.10,278.23 153.25,277.97 153.39,278.20 153.53,278.97 153.67,279.56 153.82,279.93 153.96,279.39 154.10,277.25 154.24,274.23 154.39,278.47 154.53,274.85 154.67,281.54 154.81,275.46 154.96,274.23 155.10,274.23 155.24,278.20 155.38,278.04 155.53,278.65 155.67,278.01 155.81,276.12 155.95,278.94 156.09,276.27 156.24,274.84 156.38,279.11 156.52,278.44 156.66,275.84 156.81,277.05 156.95,279.32 157.09,279.16 157.23,275.60 157.38,279.46 157.52,272.91 157.66,277.65 157.80,278.18 157.95,277.29 158.09,277.70 158.23,274.65 158.37,277.27 158.52,278.38 158.66,275.85 158.80,277.74 158.94,277.20 159.09,273.50 159.23,276.42 159.37,270.80 159.51,274.74 159.66,277.54 159.80,278.09 159.94,275.23 160.08,277.05 160.23,279.08 160.37,278.77 160.51,275.74 160.65,279.30 160.80,278.10 160.94,277.72 161.08,280.17 161.22,278.79 161.36,278.15 161.51,279.20 161.65,278.68 161.79,279.75 161.93,277.29 162.08,274.34 162.22,280.26 162.36,278.92 162.50,278.43 162.65,277.58 162.79,277.34 162.93,277.68 163.07,275.81 163.22,278.87 163.36,277.65 163.50,275.80 163.64,277.97 163.79,276.91 163.93,277.44 164.07,278.46 164.21,282.28 164.36,275.60 164.50,278.22 164.64,278.76 164.78,278.25 164.93,280.14 165.07,276.73 165.21,276.91 165.35,277.47 165.50,275.06 165.64,279.45 165.78,275.29 165.92,278.46 166.07,279.60 166.21,275.94 166.35,277.07 166.49,276.97 166.64,280.34 166.78,277.71 166.92,274.07 167.06,279.05 167.20,278.94 167.35,273.51 167.49,272.16 167.63,281.61 167.77,277.07 167.92,273.08 168.06,278.70 168.20,279.30 168.34,272.49 168.49,278.95 168.63,277.90 168.77,276.55 168.91,275.29 169.06,277.18 169.20,275.01 169.34,276.69 169.48,275.91 169.63,275.52 169.77,277.24 169.91,277.97 170.05,277.78 170.20,276.99 170.34,279.19 170.48,273.95 170.62,276.31 170.77,276.53 170.91,278.36 171.05,272.16 171.19,275.41 171.34,275.63 171.48,276.54 171.62,280.23 171.76,276.62 171.91,276.03 172.05,276.96 172.19,277.95 172.33,275.88 172.47,279.20 172.62,274.03 172.76,278.43 172.90,277.46 173.04,277.98 173.19,278.97 173.33,275.76 173.47,276.94 173.61,276.67 173.76,275.12 173.90,274.83 174.04,274.81 174.18,277.71 174.33,272.12 174.47,273.90 174.61,276.33 174.75,278.53 174.90,276.01 175.04,278.45 175.18,276.09 175.32,275.24 175.47,273.40 175.61,276.53 175.75,279.29 175.89,276.36 176.04,274.34 176.18,277.24 176.32,273.75 176.46,274.16 176.61,278.19 176.75,276.93 176.89,277.93 177.03,276.62 177.18,275.99 177.32,276.51 177.46,275.62 177.60,278.08 177.75,273.90 177.89,272.82 178.03,274.68 178.17,277.81 178.31,275.23 178.46,272.08 178.60,281.29 178.74,274.53 178.88,275.85 179.03,277.23 179.17,276.86 179.31,275.90 179.45,273.41 179.60,277.13 179.74,274.44 179.88,275.88 180.02,277.55 180.17,275.51 180.31,272.99 180.45,275.12 180.59,277.28 180.74,277.48 180.88,273.88 181.02,276.28 181.16,276.72 181.31,278.11 181.45,276.92 181.59,276.48 181.73,275.65 181.88,277.04 182.02,277.58 182.16,275.91 182.30,275.69 182.45,279.31 182.59,276.12 182.73,274.80 182.87,277.40 183.02,273.98 183.16,274.26 183.30,277.83 183.44,276.24 183.59,277.61 183.73,277.58 183.87,274.85 184.01,277.10 184.15,275.52 184.30,276.58 184.44,276.65 184.58,276.05 184.72,273.89 184.87,276.73 185.01,276.23 185.15,277.14 185.29,274.32 185.44,276.55 185.58,275.83 185.72,275.44 185.86,275.72 186.01,275.75 186.15,273.77 186.29,275.23 186.43,275.38 186.58,277.03 186.72,275.93 186.86,278.71 187.00,277.27 187.15,276.85 187.29,276.74 187.43,273.93 187.57,277.19 187.72,278.87 187.86,274.91 188.00,279.14 188.14,277.98 188.29,277.48 188.43,276.30 188.57,277.18 188.71,275.84 188.86,277.28 189.00,277.49 189.14,277.60 189.28,264.20 189.42,279.30 189.57,276.58 189.71,278.53 189.85,278.95 189.99,277.63 190.14,282.35 190.28,278.22 190.42,278.75 190.56,277.57 190.71,278.60 190.85,275.78 190.99,279.16 191.13,277.37 191.28,277.12 191.42,279.38 191.56,279.64 191.70,277.29 191.85,276.23 191.99,274.49 192.13,276.29 192.27,278.92 192.42,279.18 192.56,275.83 192.70,278.15 192.84,279.92 192.99,276.72 193.13,277.09 193.27,276.48 193.41,278.81 193.56,274.74 193.70,277.85 193.84,278.92 193.98,277.99 194.13,279.79 194.27,279.18 194.41,277.20 194.55,276.33 194.70,276.24 194.84,278.97 194.98,277.87 195.12,278.32 195.26,276.50 195.41,280.16 195.55,279.66 195.69,279.46 195.83,276.16 195.98,282.72 196.12,279.63 196.26,276.23 196.40,279.85 196.55,277.92 196.69,276.77 196.83,276.81 196.97,279.04 197.12,278.71 197.26,278.54 197.40,277.79 197.54,276.36 197.69,278.62 197.83,277.71 197.97,277.82 198.11,279.26 198.26,281.17 198.40,277.09 198.54,279.90 198.68,276.90 198.83,279.69 198.97,279.34 199.11,278.27 199.25,278.63 199.40,276.85 199.54,277.63 199.68,279.90 199.82,279.58 199.97,282.20 200.11,276.46 200.25,277.42 200.39,278.42 200.54,278.35 200.68,277.36 200.82,277.52 200.96,278.08 201.10,280.50 201.25,278.08 201.39,276.94 201.53,278.82 201.67,273.68 201.82,276.75 201.96,277.17 202.10,278.82 202.24,274.27 202.39,277.92 202.53,276.41 202.67,280.02 202.81,279.69 202.96,277.52 203.10,279.02 203.24,275.99 203.38,278.26 203.53,278.18 203.67,279.43 203.81,276.65 203.95,273.48 204.10,278.50 204.24,275.04 204.38,275.83 204.52,275.99 204.67,279.37 204.81,276.23 204.95,278.18 205.09,276.13 205.24,273.39 205.38,276.49 205.52,276.43 205.66,274.39 205.81,272.48 205.95,280.04 206.09,278.74 206.23,275.72 206.37,275.80 206.52,276.64 206.66,276.03 206.80,272.39 206.94,272.55 207.09,276.42 207.23,277.36 207.37,276.84 207.51,276.42 207.66,274.94 207.80,276.65 207.94,277.67 208.08,275.88 208.23,277.15 208.37,277.07 208.51,273.70 208.65,277.00 208.80,273.60 208.94,273.33 209.08,277.76 209.22,272.05 209.37,274.60 209.51,276.51 209.65,275.60 209.79,274.24 209.94,271.00 210.08,275.80 210.22,275.84 210.36,274.76 210.51,273.20 210.65,272.39 210.79,274.88 210.93,274.80 211.08,276.34 211.22,274.34 211.36,276.47 211.50,272.76 211.65,271.85 211.79,276.50 211.93,274.13 212.07,273.39 212.21,274.61 212.36,272.73 212.50,274.26 212.64,272.43 212.78,275.15 212.93,273.82 213.07,270.50 213.21,274.84 213.35,275.61 213.50,271.84 213.64,275.10 213.78,274.36 213.92,272.81 214.07,274.36 214.21,275.70 214.35,275.63 214.49,278.28 214.64,274.24 214.78,275.05 214.92,278.17 215.06,273.76 215.21,273.35 215.35,273.99 215.49,273.76 215.63,274.74 215.78,275.03 215.92,273.46 216.06,272.79 216.20,274.68 216.35,272.63 216.49,273.35 216.63,275.37 216.77,274.59 216.92,273.02 217.06,272.26 217.20,273.01 217.34,272.16 217.48,275.67 217.63,276.03 217.77,275.26 217.91,275.27 218.05,273.87 218.20,275.01 218.34,274.82 218.48,274.80 218.62,273.86 218.77,272.84 218.91,275.21 219.05,275.41 219.19,272.93 219.34,274.58 219.48,275.05 219.62,276.08 219.76,272.39 219.91,273.02 220.05,273.19 220.19,273.55 220.33,273.94 220.48,277.42 220.62,274.05 220.76,279.89 220.90,276.77 221.05,277.62 221.19,276.46 221.33,278.16 221.47,277.44 221.62,278.20 221.76,277.82 221.90,277.88 222.04,277.47 222.19,278.70 222.33,276.84 222.47,275.90 222.61,251.80 222.76,275.97 222.90,277.50 223.04,280.45 223.18,275.70 223.32,276.33 223.47,275.63 223.61,275.19 223.75,277.93 223.89,276.45 224.04,277.03 224.18,273.84 224.32,277.64 224.46,275.56 224.61,273.45 224.75,275.55 224.89,274.01 225.03,279.56 225.18,273.88 225.32,277.30 225.46,275.00 225.60,275.38 225.75,274.58 225.89,278.91 226.03,274.89 226.17,275.70 226.32,277.21 226.46,276.16 226.60,278.01 226.74,275.52 226.89,273.99 227.03,277.59 227.17,278.88 227.31,277.72 227.46,275.35 227.60,278.83 227.74,278.18 227.88,276.15 228.03,277.56 228.17,276.75 228.31,277.01 228.45,277.92 228.60,278.32 228.74,276.96 228.88,276.92 229.02,272.49 229.16,275.40 229.31,277.61 229.45,275.42 229.59,277.45 229.73,276.46 229.88,276.92 230.02,276.97 230.16,279.08 230.30,277.68 230.45,263.00 230.59,274.75 230.73,277.45 230.87,274.94 231.02,278.95 231.16,275.60 231.30,275.73 231.44,276.55 231.59,275.06 231.73,277.66 231.87,277.37 232.01,275.63 232.16,275.88 232.30,279.99 232.44,278.82 232.58,277.76 232.73,277.31 232.87,279.41 233.01,276.14 233.15,276.35 233.30,276.57 233.44,274.97 233.58,275.28 233.72,280.00 233.87,277.08 234.01,275.28 234.15,276.39 234.29,275.97 234.43,276.06 234.58,276.71 234.72,274.26 234.86,273.70 235.00,276.46 235.15,276.41 235.29,274.78 235.43,276.63 235.57,275.83 235.72,277.16 235.86,276.45 236.00,278.74 236.14,279.23 236.29,277.97 236.43,276.86 236.57,278.29 236.71,278.09 236.86,277.63 237.00,278.16 237.14,276.17 237.28,278.17 237.43,277.74 237.57,277.53 237.71,276.54 237.85,276.12 238.00,277.83 238.14,275.97 238.28,274.98 238.42,279.72 238.57,278.88 238.71,275.51 238.85,279.22 238.99,273.31 239.14,277.87 239.28,278.01 239.42,277.26 239.56,276.49 239.71,278.18 239.85,277.73 239.99,274.89 240.13,275.58 240.27,278.56 240.42,278.12 240.56,274.87 240.70,274.29 240.84,277.59 240.99,275.42 241.13,275.59 241.27,275.94 241.41,277.23 241.56,273.37 241.70,278.18 241.84,276.21 241.98,278.41 242.13,274.88 242.27,275.35 242.41,277.68 242.55,278.54 242.70,276.75 242.84,276.28 242.98,279.14 243.12,278.71 243.27,277.36 243.41,276.42 243.55,279.00 243.69,278.04 243.84,276.23 243.98,279.37 244.12,278.74 244.26,277.22 244.41,277.65 244.55,278.17 244.69,276.05 244.83,274.78 244.98,278.89 245.12,274.05 245.26,274.25 245.40,274.42 245.55,277.70 245.69,278.63 245.83,275.73 245.97,279.08 246.11,279.67 246.26,279.21 246.40,274.64 246.54,279.09 246.68,280.80 246.83,275.30 246.97,274.06 247.11,279.06 247.25,277.75 247.40,276.78 247.54,276.75 247.68,273.90 247.82,275.40 247.97,277.18 248.11,277.66 248.25,278.44 248.39,278.46 248.54,276.04 248.68,276.72 248.82,279.30 248.96,274.51 249.11,277.75 249.25,275.38 249.39,277.22 249.53,280.04 249.68,277.54 249.82,276.07 249.96,275.67 250.10,274.43 250.25,276.81 250.39,272.93 250.53,276.71 250.67,277.08 250.82,275.29 250.96,275.49 251.10,278.90 251.24,279.00 251.38,280.38 251.53,278.83 251.67,277.40 251.81,276.48 251.95,278.98 252.10,278.03 252.24,277.16 252.38,279.96 252.52,276.58 252.67,277.16 252.81,278.75 252.95,277.70 253.09,276.99 253.24,278.65 253.38,281.65 253.52,276.29 253.66,278.06 253.81,277.60 253.95,277.15 254.09,279.75 254.23,276.71 254.38,279.80 254.52,275.16 254.66,277.08 254.80,275.45 254.95,277.49 255.09,278.05 255.23,277.82 255.37,277.25 255.52,276.41 255.66,274.75 255.80,278.33 255.94,276.90 256.09,278.84 256.23,273.92 256.37,276.37 256.51,273.83 256.66,260.10 256.80,275.47 256.94,274.91 257.08,278.21 257.22,276.52 257.37,277.08 257.51,276.45 257.65,278.54 257.79,277.07 257.94,277.02 258.08,276.53 258.22,278.22 258.36,278.50 258.51,275.95 258.65,278.04 258.79,273.96 258.93,275.17 259.08,275.63 259.22,275.27 259.36,277.48 259.50,274.15 259.65,273.86 259.79,276.88 259.93,275.04 260.07,276.64 260.22,276.69 260.36,275.38 260.50,275.84 260.64,278.03 260.79,276.55 260.93,276.66 261.07,277.71 261.21,275.28 261.36,274.45 261.50,275.92 261.64,279.36 261.78,277.60 261.93,280.41 262.07,278.27 262.21,278.14 262.35,275.68 262.49,273.69 262.64,272.87 262.78,276.79 262.92,274.60 263.06,274.50 263.21,277.52 263.35,277.05 263.49,274.29 263.63,276.98 263.78,278.95 263.92,278.17 264.06,275.33 264.20,278.18 264.35,273.09 264.49,276.03 264.63,275.76 264.77,278.68 264.92,274.43 265.06,274.88 265.20,275.95 265.34,277.85 265.49,274.10 265.63,276.95 265.77,275.91 265.91,275.74 266.06,274.32 266.20,277.27 266.34,276.78 266.48,277.29 266.63,276.83 266.77,276.34 266.91,275.00 267.05,276.51 267.20,277.90 267.34,276.78 267.48,277.46 267.62,278.05 267.77,277.12 267.91,276.11 268.05,274.85 268.19,278.73 268.33,276.24 268.48,276.24 268.62,276.69 268.76,277.95 268.90,278.04 269.05,275.31 269.19,276.40 269.33,278.56 269.47,275.48 269.62,276.60 269.76,275.07 269.90,274.01 270.04,274.29 270.19,276.82 270.33,277.08 270.47,272.03 270.61,276.09 270.76,276.15 270.90,273.85 271.04,276.41 271.18,275.17 271.33,278.89 271.47,274.82 271.61,278.34 271.75,274.48 271.90,274.74 272.04,278.99 272.18,275.09 272.32,275.55 272.47,273.44 272.61,276.36 272.75,278.42 272.89,275.38 273.04,275.30 273.18,275.67 273.32,274.24 273.46,273.24 273.61,275.43 273.75,274.69 273.89,272.10 274.03,270.83 274.17,275.75 274.32,272.62 274.46,275.51 274.60,276.18 274.74,274.40 274.89,273.37 275.03,269.91 275.17,276.99 275.31,275.87 275.46,272.99 275.60,272.45 275.74,275.16 275.88,270.82 276.03,275.53 276.17,275.92 276.31,272.18 276.45,268.00 276.60,277.39 276.74,273.41 276.88,274.56 277.02,273.66 277.17,270.68 277.31,276.01 277.45,277.08 277.59,273.22 277.74,272.67 277.88,276.89 278.02,271.60 278.16,273.68 278.31,271.86 278.45,271.46 278.59,273.13 278.73,269.54 278.88,272.09 279.02,269.00 279.16,272.91 279.30,272.24 279.44,278.51 279.59,275.55 279.73,273.28 279.87,276.08 280.01,275.29 280.16,274.46 280.30,275.46 280.44,273.52 280.58,273.15 280.73,277.27 280.87,274.28 281.01,276.80 281.15,267.50 281.30,272.52 281.44,272.53 281.58,274.35 281.72,274.01 281.87,275.81 282.01,275.01 282.15,274.10 282.29,275.02 282.44,275.35 282.58,274.58 282.72,269.81 282.86,273.24 283.01,275.15 283.15,273.39 283.29,276.50 283.43,273.17 283.58,274.18 283.72,272.64 283.86,273.83 284.00,275.99 284.15,276.52 284.29,275.56 284.43,275.22 284.57,274.25 284.72,271.78 284.86,275.12 285.00,272.89 285.10,251.80"/>
<line x1="42.10" y1="259.4" x2="42.10" y2="286" stroke="#ff0000" stroke-width="1.1"/>
<path d="M60.80 277.78L61.30 270.20L61.80 277.78" fill="none" stroke="#ff0000" stroke-width="0.8"/>
<path d="M82.70 277.72L83.20 271.30L83.70 277.72" fill="none" stroke="#ff0000" stroke-width="0.8"/>
<path d="M104.40 277.66L104.90 262.10L105.40 277.66" fill="none" stroke="#ff0000" stroke-width="0.8"/>
<path d="M128.40 277.60L128.90 269.20L129.40 277.60" fill="none" stroke="#ff0000" stroke-width="0.8"/>
<path d="M133.00 277.59L133.50 270.80L134.00 277.59" fill="none" stroke="#ff0000" stroke-width="0.8"/>
<path d="M147.40 277.55L147.90 267.20L148.40 277.55" fill="none" stroke="#ff0000" stroke-width="0.8"/>
<path d="M158.90 277.52L159.40 270.80L159.90 277.52" fill="none" stroke="#ff0000" stroke-width="0.8"/>
<path d="M188.80 277.58L189.30 264.20L189.80 277.58" fill="none" stroke="#ff0000" stroke-width="0.8"/>
<path d="M222.10 276.80L222.60 251.80L223.10 276.80" fill="none" stroke="#ff0000" stroke-width="0.8"/>
<path d="M230.00 276.80L230.50 263.00L231.00 276.80" fill="none" stroke="#ff0000" stroke-width="0.8"/>
<path d="M256.10 276.71L256.60 260.10L257.10 276.71" fill="none" stroke="#ff0000" stroke-width="0.8"/>
<path d="M276.00 274.26L276.50 268.00L277.00 274.26" fill="none" stroke="#ff0000" stroke-width="0.8"/>
<path d="M280.70 274.12L281.20 267.50L281.70 274.12" fill="none" stroke="#ff0000" stroke-width="0.8"/>
<path d="M278.50 274.19L279.00 269.00L279.50 274.19" fill="none" stroke="#ff0000" stroke-width="0.8"/>
<path d="M212.50 274.84L213.00 270.50L213.50 274.84" fill="none" stroke="#ff0000" stroke-width="0.8"/>
<path d="M209.50 274.91L210.00 271.00L210.50 274.91" fill="none" stroke="#ff0000" stroke-width="0.8"/>
<line x1="285.10" y1="251.8" x2="285.10" y2="280" stroke="#ff0000" stroke-width="1"/>
<text x="291.7" y="14.9" font-size="20" font-weight="bold" font-family="Liberation Sans, sans-serif" fill="#000">c)</text>
<rect x="389.40" y="53.80" width="16.70" height="3.00" fill="#cde0fa" stroke="#000" stroke-width="1.8"/>
<rect x="406.10" y="23.90" width="16.70" height="32.90" fill="#cde0fa" stroke="#000" stroke-width="1.8"/>
<rect x="422.80" y="20.90" width="16.70" height="35.90" fill="#cde0fa" stroke="#000" stroke-width="1.8"/>
<rect x="439.50" y="33.80" width="16.70" height="23.00" fill="#cde0fa" stroke="#000" stroke-width="1.8"/>
<rect x="456.20" y="49.00" width="16.70" height="7.80" fill="#cde0fa" stroke="#000" stroke-width="1.8"/>
<rect x="472.90" y="43.80" width="16.70" height="13.00" fill="#cde0fa" stroke="#000" stroke-width="1.8"/>
<rect x="489.60" y="49.00" width="16.70" height="7.80" fill="#cde0fa" stroke="#000" stroke-width="1.8"/>
<rect x="506.30" y="43.80" width="16.70" height="13.00" fill="#cde0fa" stroke="#000" stroke-width="1.8"/>
<rect x="523.00" y="46.90" width="16.70" height="9.90" fill="#cde0fa" stroke="#000" stroke-width="1.8"/>
<rect x="539.70" y="46.90" width="16.70" height="9.90" fill="#cde0fa" stroke="#000" stroke-width="1.8"/>
<rect x="556.40" y="48.80" width="16.70" height="8.00" fill="#cde0fa" stroke="#000" stroke-width="1.8"/>
<rect x="573.10" y="53.50" width="16.70" height="3.30" fill="#cde0fa" stroke="#000" stroke-width="1.8"/>
<rect x="589.80" y="53.50" width="16.70" height="3.30" fill="#cde0fa" stroke="#000" stroke-width="1.8"/>
<rect x="606.50" y="55.00" width="16.70" height="1.80" fill="#cde0fa" stroke="#000" stroke-width="1.8"/>
<rect x="636.90" y="67.70" width="2.50" height="13.14" fill="#cde0fa" stroke="#000" stroke-width="1.8"/>
<rect x="636.90" y="93.98" width="5.70" height="13.14" fill="#cde0fa" stroke="#000" stroke-width="1.8"/>
<rect x="636.90" y="107.12" width="2.50" height="13.14" fill="#cde0fa" stroke="#000" stroke-width="1.8"/>
<rect x="636.90" y="133.40" width="11.60" height="13.14" fill="#cde0fa" stroke="#000" stroke-width="1.8"/>
<rect x="636.90" y="146.54" width="16.50" height="13.14" fill="#cde0fa" stroke="#000" stroke-width="1.8"/>
<rect x="636.90" y="159.68" width="7.40" height="13.14" fill="#cde0fa" stroke="#000" stroke-width="1.8"/>
<rect x="636.90" y="172.82" width="21.20" height="13.14" fill="#cde0fa" stroke="#000" stroke-width="1.8"/>
<rect x="636.90" y="185.96" width="25.90" height="13.14" fill="#cde0fa" stroke="#000" stroke-width="1.8"/>
<rect x="636.90" y="199.10" width="44.40" height="13.14" fill="#cde0fa" stroke="#000" stroke-width="1.8"/>
<rect x="636.90" y="212.24" width="47.10" height="13.14" fill="#cde0fa" stroke="#000" stroke-width="1.8"/>
<rect x="636.90" y="225.38" width="44.50" height="13.14" fill="#cde0fa" stroke="#000" stroke-width="1.8"/>
<rect x="636.90" y="238.52" width="21.40" height="13.14" fill="#cde0fa" stroke="#000" stroke-width="1.8"/>
<line x1="636.90" y1="67.70" x2="636.90" y2="251.66" stroke="#000" stroke-width="1.8"/>
<line x1="377.8" y1="59" x2="377.8" y2="261.3" stroke="#000" stroke-width="2"/>
<line x1="376.8" y1="260.3" x2="635.2" y2="260.3" stroke="#000" stroke-width="2"/>
<line x1="374.9" y1="110.8" x2="377" y2="110.8" stroke="#222" stroke-width="1.3"/>
<text x="372.3" y="114.7" font-size="11.2" text-anchor="end" font-family="Liberation Sans, sans-serif" fill="#4d4d4d">0.0015</text>
<line x1="374.9" y1="163.7" x2="377" y2="163.7" stroke="#222" stroke-width="1.3"/>
<text x="372.3" y="167.6" font-size="11.2" text-anchor="end" font-family="Liberation Sans, sans-serif" fill="#4d4d4d">0.0010</text>
<line x1="374.9" y1="216.3" x2="377" y2="216.3" stroke="#222" stroke-width="1.3"/>
<text x="372.3" y="220.2" font-size="11.2" text-anchor="end" font-family="Liberation Sans, sans-serif" fill="#4d4d4d">0.0005</text>
<line x1="398.1" y1="261" x2="398.1" y2="263.2" stroke="#222" stroke-width="1.3"/>
<text x="398.1" y="274.1" font-size="11.2" text-anchor="middle" font-family="Liberation Sans, sans-serif" fill="#4d4d4d">0</text>
<line x1="486.6" y1="261" x2="486.6" y2="263.2" stroke="#222" stroke-width="1.3"/>
<text x="486.6" y="274.1" font-size="11.2" text-anchor="middle" font-family="Liberation Sans, sans-serif" fill="#4d4d4d">10</text>
<line x1="574.5" y1="261" x2="574.5" y2="263.2" stroke="#222" stroke-width="1.3"/>
<text x="574.5" y="274.1" font-size="11.2" text-anchor="middle" font-family="Liberation Sans, sans-serif" fill="#4d4d4d">20</text>
<text transform="translate(326.70 161.30) rotate(-90) scale(1 1.000)" font-size="18" text-anchor="middle" font-family="Liberation Sans, sans-serif" fill="#000">GVTD</text>
<text x="487.1" y="294.3" font-size="18.4" text-anchor="middle" font-family="Liberation Sans, sans-serif" fill="#000">Pulse</text>
<g fill="#000"><circle cx="414.9" cy="68.0" r="2.25"/><circle cx="411.6" cy="105.8" r="2.25"/><circle cx="427.2" cy="101.4" r="2.25"/><circle cx="446.7" cy="120.3" r="2.25"/><circle cx="401.8" cy="136.4" r="2.25"/><circle cx="418.9" cy="139.5" r="2.25"/><circle cx="413.6" cy="145.1" r="2.25"/><circle cx="440.0" cy="139.6" r="2.25"/><circle cx="436.2" cy="150.7" r="2.25"/><circle cx="428.0" cy="153.5" r="2.25"/><circle cx="439.8" cy="154.3" r="2.25"/><circle cx="429.8" cy="157.9" r="2.25"/><circle cx="421.7" cy="159.0" r="2.25"/><circle cx="408.9" cy="161.9" r="2.25"/><circle cx="410.4" cy="170.7" r="2.25"/><circle cx="444.7" cy="157.8" r="2.25"/><circle cx="448.6" cy="156.4" r="2.25"/><circle cx="420.4" cy="180.4" r="2.25"/><circle cx="409.9" cy="183.0" r="2.25"/><circle cx="413.1" cy="183.9" r="2.25"/><circle cx="426.9" cy="183.9" r="2.25"/><circle cx="437.3" cy="183.7" r="2.25"/><circle cx="440.6" cy="178.7" r="2.25"/><circle cx="416.6" cy="188.0" r="2.25"/><circle cx="415.3" cy="191.0" r="2.25"/><circle cx="428.2" cy="190.7" r="2.25"/><circle cx="425.0" cy="193.6" r="2.25"/><circle cx="425.2" cy="196.0" r="2.25"/><circle cx="433.1" cy="194.5" r="2.25"/><circle cx="424.1" cy="198.5" r="2.25"/><circle cx="428.7" cy="199.3" r="2.25"/><circle cx="443.3" cy="188.6" r="2.25"/><circle cx="442.7" cy="199.3" r="2.25"/><circle cx="447.2" cy="182.8" r="2.25"/><circle cx="407.7" cy="206.7" r="2.25"/><circle cx="410.1" cy="211.2" r="2.25"/><circle cx="415.2" cy="215.8" r="2.25"/><circle cx="413.0" cy="219.3" r="2.25"/><circle cx="412.6" cy="222.8" r="2.25"/><circle cx="419.7" cy="211.3" r="2.25"/><circle cx="419.9" cy="217.4" r="2.25"/><circle cx="422.4" cy="214.6" r="2.25"/><circle cx="423.5" cy="207.3" r="2.25"/><circle cx="423.6" cy="213.4" r="2.25"/><circle cx="427.5" cy="205.5" r="2.25"/><circle cx="433.7" cy="205.3" r="2.25"/><circle cx="435.9" cy="209.0" r="2.25"/><circle cx="431.0" cy="212.4" r="2.25"/><circle cx="429.8" cy="219.6" r="2.25"/><circle cx="436.4" cy="217.8" r="2.25"/><circle cx="445.1" cy="210.8" r="2.25"/><circle cx="433.4" cy="229.0" r="2.25"/><circle cx="389.3" cy="229.7" r="2.25"/><circle cx="458.3" cy="140.0" r="2.25"/><circle cx="473.9" cy="175.6" r="2.25"/><circle cx="456.0" cy="191.1" r="2.25"/><circle cx="470.9" cy="194.8" r="2.25"/><circle cx="476.0" cy="200.1" r="2.25"/><circle cx="481.2" cy="201.0" r="2.25"/><circle cx="487.3" cy="196.9" r="2.25"/><circle cx="499.5" cy="202.0" r="2.25"/><circle cx="509.4" cy="206.6" r="2.25"/><circle cx="514.3" cy="203.2" r="2.25"/><circle cx="485.6" cy="208.1" r="2.25"/><circle cx="520.2" cy="211.3" r="2.25"/><circle cx="523.9" cy="211.1" r="2.25"/><circle cx="479.7" cy="218.7" r="2.25"/><circle cx="483.5" cy="216.8" r="2.25"/><circle cx="507.2" cy="218.1" r="2.25"/><circle cx="508.9" cy="216.9" r="2.25"/><circle cx="518.4" cy="218.9" r="2.25"/><circle cx="472.3" cy="230.1" r="2.25"/><circle cx="492.7" cy="230.3" r="2.25"/><circle cx="505.1" cy="227.7" r="2.25"/><circle cx="506.5" cy="228.8" r="2.25"/><circle cx="500.1" cy="238.6" r="2.25"/><circle cx="502.9" cy="237.0" r="2.25"/><circle cx="514.0" cy="236.0" r="2.25"/><circle cx="528.6" cy="227.0" r="2.25"/><circle cx="531.7" cy="225.1" r="2.25"/><circle cx="532.8" cy="215.9" r="2.25"/><circle cx="529.5" cy="248.9" r="2.25"/><circle cx="530.3" cy="159.8" r="2.25"/><circle cx="547.6" cy="180.7" r="2.25"/><circle cx="550.7" cy="216.3" r="2.25"/><circle cx="547.6" cy="220.8" r="2.25"/><circle cx="545.0" cy="225.1" r="2.25"/><circle cx="546.6" cy="227.9" r="2.25"/><circle cx="558.0" cy="224.9" r="2.25"/><circle cx="560.9" cy="229.6" r="2.25"/><circle cx="544.1" cy="238.3" r="2.25"/><circle cx="557.4" cy="242.8" r="2.25"/><circle cx="558.8" cy="243.8" r="2.25"/><circle cx="569.9" cy="236.9" r="2.25"/><circle cx="583.2" cy="236.9" r="2.25"/><circle cx="585.0" cy="239.1" r="2.25"/><circle cx="595.3" cy="231.4" r="2.25"/><circle cx="604.2" cy="251.3" r="2.25"/><circle cx="622.9" cy="248.0" r="2.25"/><circle cx="467.6" cy="223.5" r="2.25"/><circle cx="445.5" cy="229.9" r="2.25"/><circle cx="450.2" cy="229.2" r="2.25"/><circle cx="452.6" cy="234.7" r="2.25"/><circle cx="449.3" cy="243.1" r="2.25"/></g>
</svg>
</body></html>
